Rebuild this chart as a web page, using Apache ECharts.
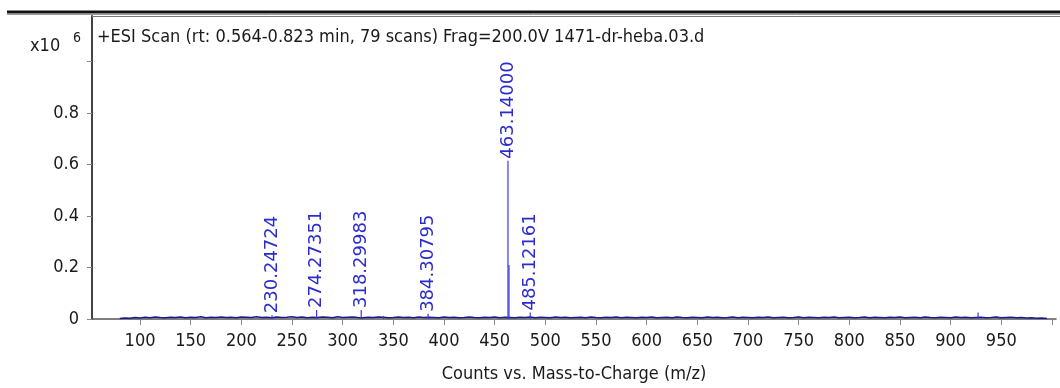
<!DOCTYPE html>
<html>
<head>
<meta charset="utf-8">
<script src="https://cdn.jsdelivr.net/npm/echarts@6/dist/echarts.min.js"></script>
<style>
html,body{margin:0;padding:0;background:#fff;}
#chart{width:1060px;height:388px;}
</style>
</head>
<body>
<div id="chart"></div>
<script>
// ---- data ----
var titleText = '+ESI Scan (rt: 0.564-0.823 min, 79 scans) Frag=200.0V 1471-dr-heba.03.d';
var xAxisTitle = 'Counts vs. Mass-to-Charge (m/z)';
var xTickLabels = [100,150,200,250,300,350,400,450,500,550,600,650,700,750,800,850,900,950];
var xTicks = [100,150,200,250,300,350,400,450,500,550,600,650,700,750,800,850,900,950,1000];
var yTickLabels = [0,0.2,0.4,0.6,0.8];
var yTicks = [0,0.2,0.4,0.6,0.8,1.0];
// labelled peaks (m/z, intensity x10^6)
var peakMz = [230.24724, 274.27351, 318.29983, 384.30795, 463.14000, 485.12161];
var peakInt = [0.015, 0.035, 0.035, 0.02, 0.615, 0.025];
// unlabelled peaks
var minorMz = [340.3, 464.14, 927.1, 948.2];
var minorInt = [0.012, 0.21, 0.025, 0.008];
// baseline noise, m/z from 80 in steps of 5
var noiseStart = 80, noiseStep = 5;
var noise = [
0.002,0.004,0.003,0.006,0.004,0.007,0.005,0.008,0.006,0.005,
0.007,0.006,0.008,0.005,0.007,0.006,0.009,0.005,0.007,0.006,
0.008,0.006,0.007,0.005,0.008,0.007,0.006,0.009,0.006,0.007,
0.005,0.008,0.006,0.007,0.009,0.006,0.008,0.005,0.007,0.006,
0.008,0.007,0.005,0.009,0.006,0.007,0.008,0.006,0.005,0.007,
0.006,0.008,0.007,0.005,0.006,0.008,0.006,0.007,0.005,0.008,
0.006,0.007,0.006,0.005,0.008,0.006,0.007,0.005,0.006,0.008,
0.006,0.005,0.007,0.006,0.008,0.005,0.007,0.006,0.005,0.007,
0.006,0.008,0.005,0.007,0.006,0.005,0.008,0.006,0.007,0.005,
0.006,0.007,0.005,0.008,0.006,0.005,0.007,0.006,0.008,0.005,
0.007,0.006,0.005,0.007,0.006,0.008,0.005,0.006,0.007,0.005,
0.008,0.006,0.005,0.007,0.006,0.005,0.008,0.006,0.007,0.005,
0.006,0.008,0.005,0.007,0.006,0.005,0.007,0.006,0.008,0.005,
0.006,0.007,0.005,0.006,0.008,0.005,0.007,0.006,0.005,0.007,
0.006,0.008,0.005,0.006,0.007,0.005,0.006,0.008,0.005,0.007,
0.006,0.005,0.007,0.006,0.008,0.005,0.006,0.007,0.005,0.008,
0.006,0.005,0.007,0.006,0.005,0.008,0.006,0.007,0.005,0.006,
0.007,0.005,0.006,0.008,0.005,0.006,0.007,0.005,0.006,0.004,
0.005,0.003,0.004,0.002
];

var axisFont = 'DejaVu Sans Condensed';
var labelFont = 'DejaVu Sans';

var noiseData = noise.map(function(v,i){ return [noiseStart + i*noiseStep, v]; });
var stickData = [];
peakMz.forEach(function(m,i){ stickData.push([m, peakInt[i], 1]); });
minorMz.forEach(function(m,i){ stickData.push([m, minorInt[i], 0]); });

var chart = echarts.init(document.getElementById('chart'), null, {renderer:'canvas'});
chart.setOption({
  animation: false,
  backgroundColor: '#ffffff',
  grid: {left: 92, right: 4, top: 16, bottom: 66, containLabel: false},
  xAxis: {
    type: 'value', min: 52.6, max: 1004,
    axisLine: {show: true, onZero: false, lineStyle: {color: '#555', width: 1.5}},
    axisTick: {show: true, length: 6, customValues: xTicks, lineStyle: {color: '#888'}},
    axisLabel: {customValues: xTickLabels, color: '#1a1a1a', fontFamily: axisFont, fontSize: 18, margin: 13},
    splitLine: {show: false},
    name: xAxisTitle, nameLocation: 'middle', nameGap: 46,
    nameTextStyle: {color: '#1a1a1a', fontFamily: axisFont, fontSize: 18}
  },
  yAxis: {
    type: 'value', min: 0, max: 1.177,
    axisLine: {show: true, lineStyle: {color: '#444', width: 2}},
    axisTick: {show: true, length: 5, customValues: yTicks, lineStyle: {color: '#888'}},
    axisLabel: {customValues: yTickLabels, color: '#1a1a1a', fontFamily: axisFont, fontSize: 18, margin: 13,
      formatter: function(v){ return v === 0 ? '0' : v.toFixed(1); }},
    splitLine: {show: false}
  },
  graphic: [
    {type:'line', shape:{x1:7,y1:12,x2:1060,y2:12}, style:{stroke:'#111', lineWidth:3}, z:100},
    {type:'line', shape:{x1:7,y1:14.5,x2:1060,y2:14.5}, style:{stroke:'#999', lineWidth:1}, z:100},
    {type:'line', shape:{x1:92,y1:16.5,x2:1060,y2:16.5}, style:{stroke:'#777', lineWidth:1}, z:100},
    {type:'text', left: 97, top: 28, style:{text: titleText, fill:'#1a1a1a', font: '18px "' + axisFont + '"'}, z:100},
    {type:'text', left: 30, top: 37, style:{text: 'x10', fill:'#1a1a1a', font: '18px "' + axisFont + '"'}, z:100},
    {type:'text', left: 73, top: 31, style:{text: '6', fill:'#1a1a1a', font: '14px "' + axisFont + '"'}, z:100}
  ],
  series: [
    {
      type: 'line', data: noiseData, symbol: 'none', silent: true,
      lineStyle: {color: '#1a1a8c', width: 1.6}, z: 2
    },
    {
      type: 'custom', data: stickData, z: 3,
      renderItem: function(params, api){
        var m = api.value(0), h = api.value(1), lab = api.value(2);
        var p0 = api.coord([m, 0]), p1 = api.coord([m, h]);
        var children = [{
          type: 'line', shape: {x1: p0[0], y1: p0[1], x2: p1[0], y2: p1[1]},
          style: {stroke: '#3a3ade', lineWidth: 1.2}
        }];
        if (lab) {
          children.push({
            type: 'text', x: p1[0], y: p1[1] - 2, rotation: Math.PI/2,
            style: {text: m.toFixed(5), fill: '#2c2cce', font: '18px "' + labelFont + '"',
              textAlign: 'left', textVerticalAlign: 'middle'}
          });
        }
        return {type: 'group', children: children};
      }
    }
  ]
});
</script>
</body>
</html>
